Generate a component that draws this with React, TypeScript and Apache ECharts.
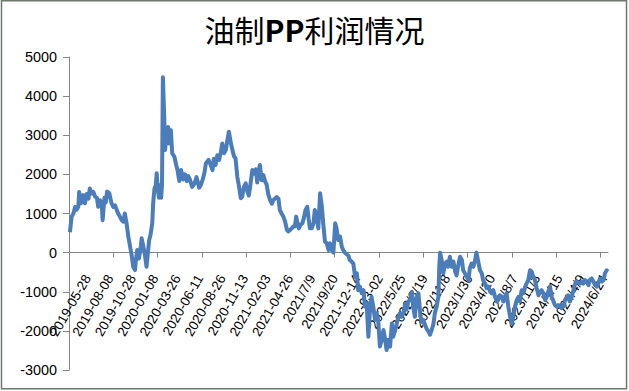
import React, { useEffect, useRef } from "react";
import * as echarts from "echarts";

// Trading-day axis labels (one every 50 trading days)
const tickLabels: string[] = [
  "2019-05-28", "2019-08-08", "2019-10-28", "2020-01-08", "2020-03-26", "2020-06-11",
  "2020-08-26", "2020-11-13", "2021-02-03", "2021-04-26", "2021/7/9", "2021/9/20",
  "2021-12-14", "2022-03-02", "2022/5/25", "2022/8/19", "2022/11/8", "2023/1/30",
  "2023/4/20", "2023/8/7", "2023/11/3", "2024/1/15", "2024/4/9", "2024/6/24",
];

// tick marks every 100 trading days
const tickDays: number[] = [0, 100, 200, 300, 400, 500, 600, 700, 800, 900, 1000, 1100, 1200];
const lastDay = 1217;

const yTicks = { min: -3000, max: 5000, step: 1000 };

// [trading-day index, profit (yuan/ton)]
const profit2019: [number, number][] = [
  [2, 520], [6, 920], [10, 1000], [14, 1170], [17, 1100], [21, 1170], [23, 1550], [27, 1260],
  [32, 1470], [36, 1260], [40, 1500], [44, 1380], [47, 1640], [51, 1510], [55, 1550], [59, 1430],
  [63, 1400], [66, 1170], [70, 1340], [74, 1210], [76, 830], [80, 1400], [83, 1280], [86, 1560],
  [91, 1520], [96, 1260], [100, 1170], [104, 1210], [108, 1080], [111, 1000], [115, 920], [119, 830],
  [123, 790], [126, 1000], [130, 750], [134, 407], [138, 150], [142, -105], [145, -360], [149, -445],
];

const profit2020: [number, number][] = [
  [151, -190], [154, 66], [158, -150], [162, 150], [164, 365], [168, 150], [172, -105], [175, -360],
  [178, -20], [181, 322], [184, 450], [188, 750], [190, 1260], [193, 1640], [196, 1725], [198, 2030],
  [200, 1700], [203, 1400], [205, 1725], [208, 1400], [210, 1725], [212, 4480], [215, 3470], [217, 2620],
  [221, 3130], [224, 3210], [226, 2790], [230, 3130], [233, 2540], [238, 2450], [242, 2240], [245, 2110],
  [249, 1830], [253, 2110], [258, 1870], [262, 2000], [266, 1830], [269, 1960], [273, 1870], [278, 1680],
  [283, 1760], [288, 1930], [294, 1660], [298, 1740], [302, 1870], [306, 2050], [309, 2280], [315, 2370],
  [320, 2240], [324, 2110], [327, 2400], [331, 2240], [335, 2490], [339, 2370], [343, 2580], [346, 2790],
  [350, 2540], [354, 2620], [357, 2830], [361, 3090], [365, 2830], [369, 2620], [373, 2450], [376, 2410],
  [380, 1940], [384, 1680], [388, 1390],
];

const profit2021: [number, number][] = [
  [391, 1430], [395, 1680], [399, 1770], [403, 1560], [406, 1460], [410, 1770], [414, 2110], [418, 2020],
  [422, 2130], [425, 1790], [429, 2130], [431, 2240], [435, 1850], [439, 1980], [443, 1810], [446, 1750],
  [450, 1490], [454, 1340], [458, 1250], [461, 1340], [465, 1380], [469, 1420], [473, 1380], [476, 1090],
  [480, 1000], [484, 920], [488, 790], [492, 580], [495, 540], [499, 580], [503, 620], [506, 665],
  [510, 665], [513, 920], [516, 750], [519, 620], [523, 710], [527, 750], [531, 920], [534, 1090],
  [538, 1170], [541, 870], [544, 620], [548, 620], [552, 750], [555, 1090], [559, 920], [563, 620],
  [567, 1520], [571, 1170], [574, 750], [578, 280], [582, 240], [586, 68], [589, 240], [593, 68],
  [597, 0], [601, 750], [604, 620], [608, 320], [612, 410], [616, 150], [619, 68], [623, 0],
  [627, -40], [631, -80],
];

const profit2022: [number, number][] = [
  [634, -190], [638, -230], [642, -280], [646, -620], [650, -530], [653, -960], [657, -870], [661, -1040],
  [665, -960], [668, -1380], [672, -1290], [676, -2150], [680, -1380], [683, -1130], [687, -1380], [691, -1720],
  [695, -1550], [698, -1720], [702, -2400], [706, -2230], [710, -1980], [714, -2230], [717, -2490], [721, -2230],
  [725, -2400], [729, -1810], [732, -2150], [736, -2000], [740, -1810], [744, -1640], [747, -1550], [751, -1640],
  [755, -1550], [759, -1300], [762, -1460], [766, -1250], [770, -1210], [774, -1000], [777, -1380], [781, -1640],
  [785, -1130], [789, -1040], [793, -1550], [796, -1770], [800, -1720], [804, -1850], [808, -1960], [811, -2000],
  [815, -2100], [819, -1980], [823, -1810], [826, -1550], [830, -1380], [834, -1130],
];

const profit2023: [number, number][] = [
  [836, -360], [838, 0], [842, -230], [845, -530], [849, -280], [853, -230], [856, -360], [860, -105],
  [864, -360], [868, -230], [872, -490], [875, -580], [879, -320], [883, -105], [887, -190], [890, -450],
  [894, -530], [898, -620], [902, -700], [905, -400], [909, -280], [913, -360], [917, -190], [920, 0],
  [924, -230], [928, -450], [932, -530], [935, -700], [939, -790], [943, -910], [947, -870], [951, -1000],
  [954, -1040], [958, -960], [962, -1130], [966, -1250], [969, -1210], [973, -1090], [977, -1130], [981, -1250],
  [984, -1130], [988, -1040], [992, -1380], [996, -1640], [1000, -1810], [1003, -1640], [1007, -1380], [1011, -1210],
  [1015, -1130], [1018, -1250], [1022, -960], [1026, -1040], [1030, -870], [1033, -790], [1037, -700], [1041, -450],
  [1045, -490], [1048, -620], [1052, -700], [1056, -910], [1060, -1090],
];

const profit2024: [number, number][] = [
  [1064, -1000], [1067, -960], [1071, -1040], [1075, -1210], [1079, -1130], [1082, -1000], [1086, -870], [1090, -1130],
  [1094, -1250], [1097, -1340], [1101, -1380], [1105, -1340], [1109, -1380], [1112, -1420], [1116, -1380], [1120, -1210],
  [1124, -1130], [1127, -1090], [1131, -1250], [1135, -1130], [1139, -960], [1143, -790], [1146, -740], [1150, -760],
  [1154, -790], [1158, -740], [1161, -790], [1165, -700], [1169, -740], [1173, -830], [1176, -700], [1180, -660],
  [1184, -740], [1188, -830], [1192, -870], [1195, -790], [1199, -660], [1203, -740], [1207, -700], [1210, -530],
  [1214, -450], [1217, -480],
];

const W = 629;
const H = 391;
const GRID = { left: 69, right: 21, top: 57, bottom: 21 };

export default function App() {
  const ref = useRef<HTMLDivElement>(null);

  useEffect(() => {
    if (!ref.current) return;
    const chart = echarts.init(ref.current, undefined, { renderer: "svg", width: W, height: H });
    const gridH = H - GRID.top - GRID.bottom;
    const zeroOffset = -gridH * (0 - yTicks.min) / (yTicks.max - yTicks.min);
    const data = [...profit2019, ...profit2020, ...profit2021, ...profit2022, ...profit2023, ...profit2024];
    const axisColor = "#868686";
    const font = "'Liberation Sans', Arial, sans-serif";
    const titleFont = "'Noto Sans CJK SC', sans-serif";

    chart.setOption({
      animation: false,
      backgroundColor: "#ffffff",
      title: {
        text: "{c|油制}{p|PP}{c|利润情况}",
        left: "center",
        top: 9,
        textStyle: {
          fontFamily: titleFont,
          fontSize: 30,
          color: "#000000",
          rich: {
            c: { fontFamily: titleFont, fontSize: 30, fontWeight: "normal", color: "#000000" },
            p: { fontFamily: titleFont, fontSize: 30, fontWeight: "bold", color: "#000000" },
          },
        },
      },
      graphic: [
        {
          type: "rect",
          shape: { x: 1.5, y: 0.75, width: 625, height: 388 },
          style: { fill: "none", stroke: "#6f786f", lineWidth: 1.5 },
          silent: true,
        },
      ],
      grid: { left: GRID.left, right: GRID.right, top: GRID.top, bottom: GRID.bottom, containLabel: false },
      xAxis: [
        {
          type: "value",
          min: 0,
          max: lastDay,
          interval: 100,
          axisLine: { show: true, onZero: true, lineStyle: { color: axisColor, width: 1 } },
          axisTick: { show: true, length: 5, customValues: tickDays, lineStyle: { color: axisColor } },
          axisLabel: { show: false },
          splitLine: { show: false },
        },
        {
          type: "category",
          position: "bottom",
          offset: zeroOffset,
          data: tickLabels,
          boundaryGap: true,
          axisLine: { show: false, onZero: false },
          axisTick: { show: false },
          splitLine: { show: false },
          axisLabel: {
            interval: 0,
            rotate: 60,
            margin: 19,
            verticalAlign: "top",
            padding: [2, 0, 0, 0],
            fontSize: 13.4,
            fontFamily: font,
            color: "#000000",
          },
        },
      ],
      yAxis: {
        type: "value",
        min: yTicks.min,
        max: yTicks.max,
        interval: yTicks.step,
        axisLine: { show: true, lineStyle: { color: axisColor, width: 1 } },
        axisTick: { show: true, length: 6, lineStyle: { color: axisColor } },
        axisLabel: {
          margin: 12,
          fontSize: 14.4,
          fontFamily: font,
          color: "#000000",
          formatter: (v: number) => String(v),
        },
        splitLine: { show: false },
      },
      series: [
        {
          type: "line",
          xAxisIndex: 0,
          data,
          showSymbol: false,
          symbol: "none",
          lineStyle: { color: "#4a7dba", width: 4, join: "round" },
          itemStyle: { color: "#4a7dba" },
        },
      ],
    });

    return () => chart.dispose();
  }, []);

  return (
    <div
      ref={ref}
      style={{ position: "fixed", left: 0, top: 0, width: W, height: H, background: "#ffffff" }}
    />
  );
}
